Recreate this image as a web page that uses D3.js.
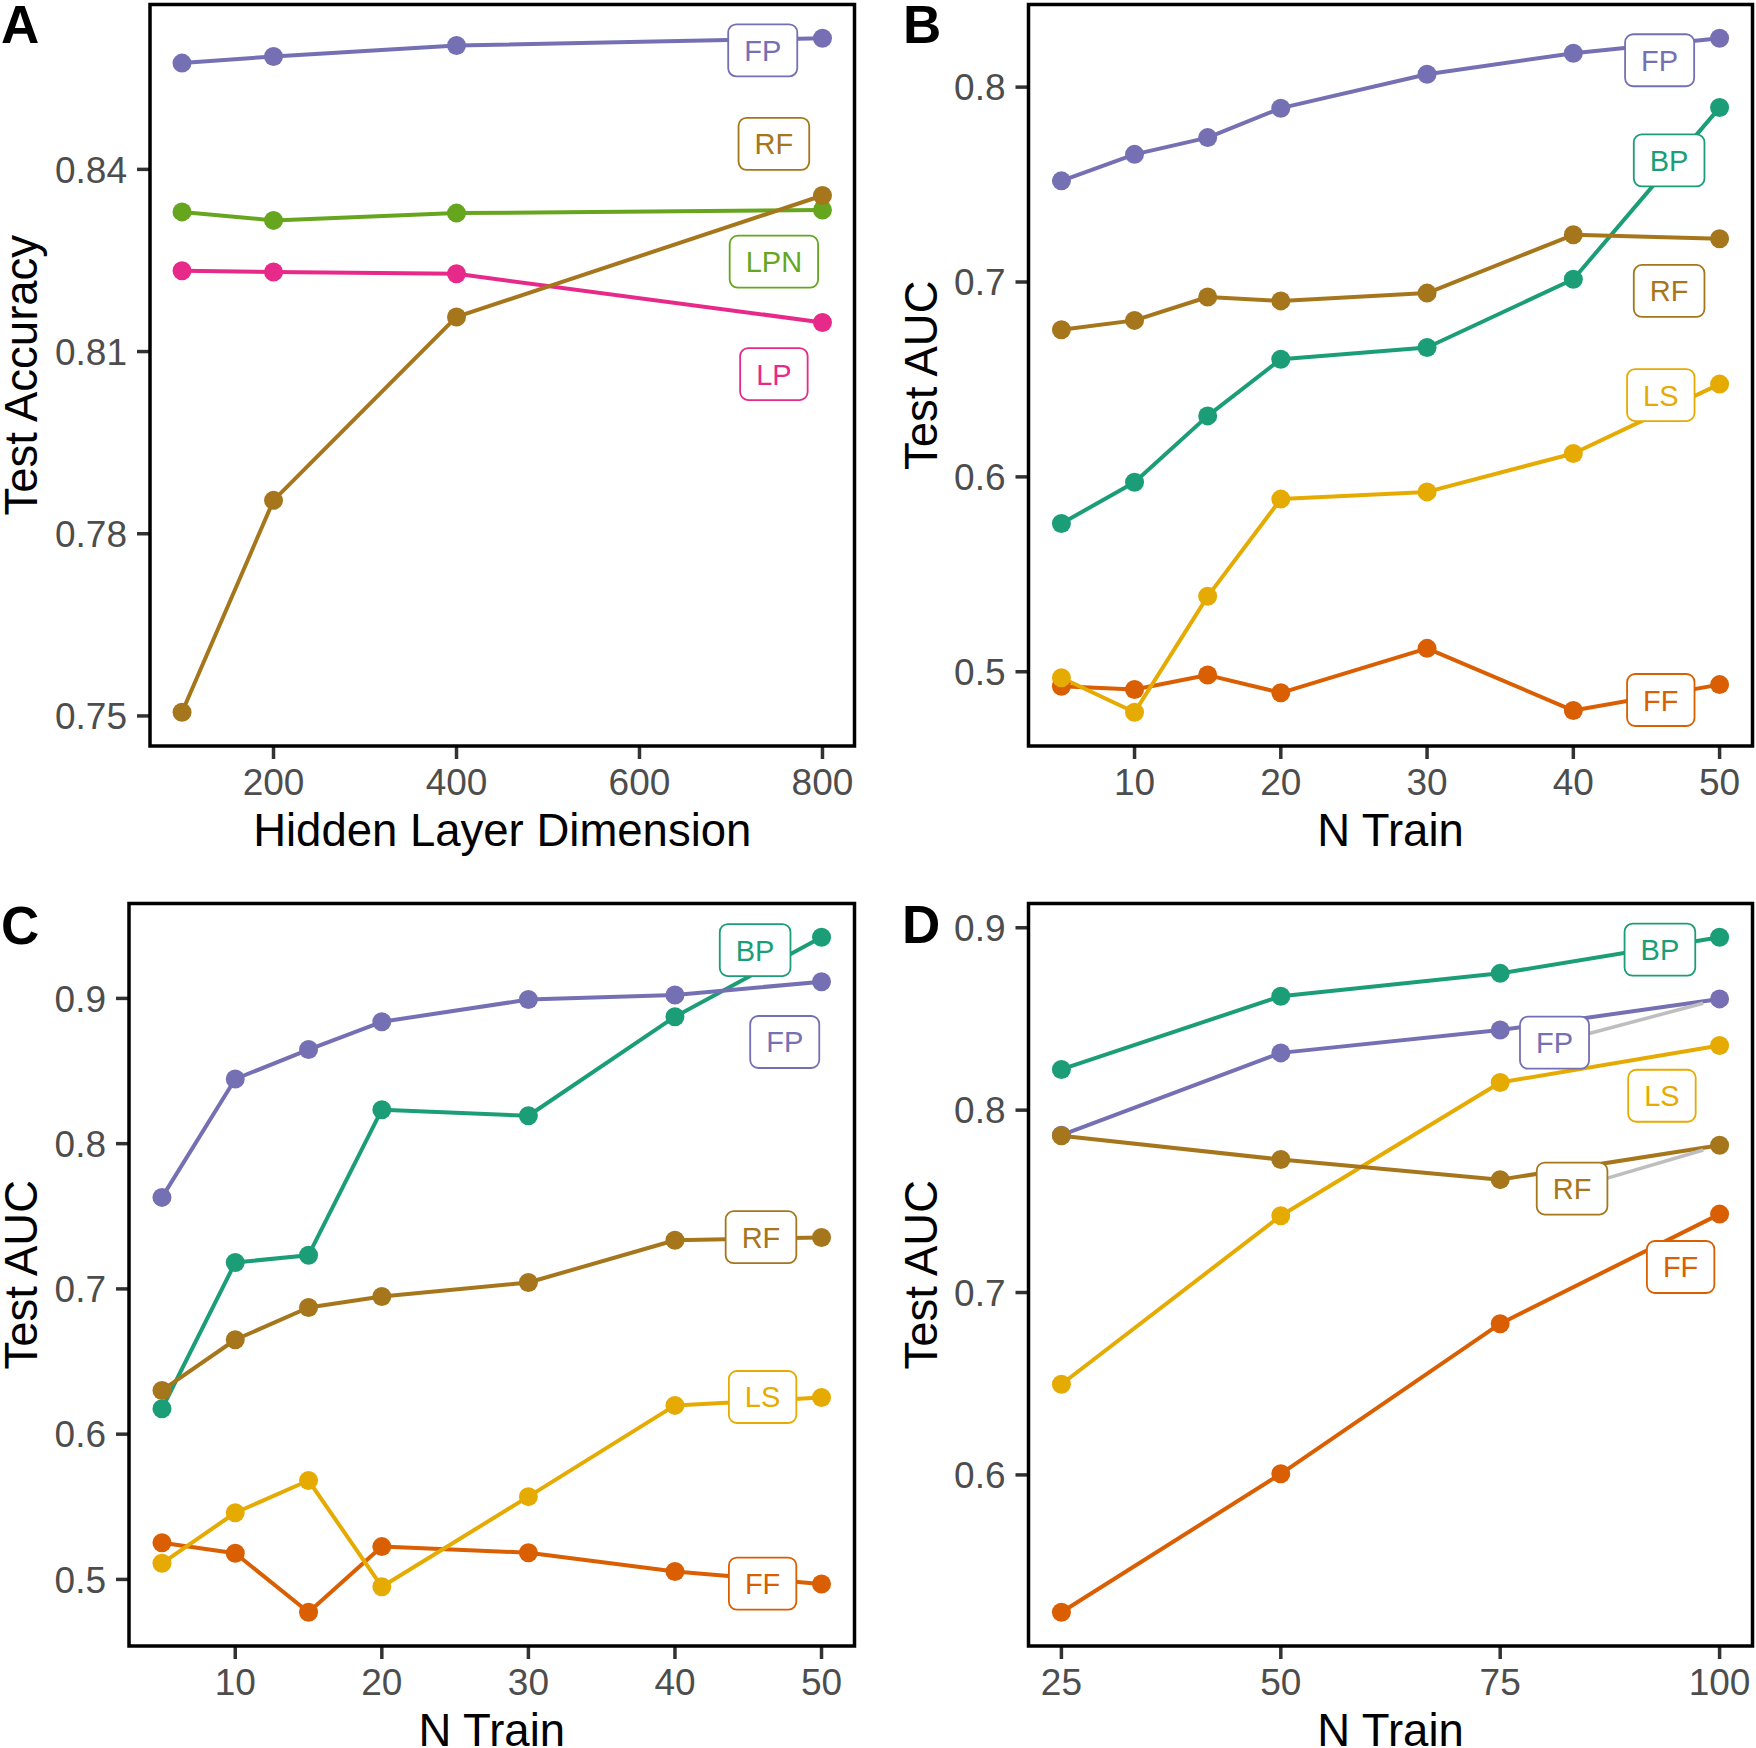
<!DOCTYPE html>
<html>
<head>
<meta charset="utf-8">
<script src="https://cdn.jsdelivr.net/npm/d3@7"></script>
<style>
  body { margin: 0; background: #fff; }
  svg  { display: block; font-family: "Liberation Sans", Arial, Helvetica, sans-serif; }
</style>
</head>
<body>
<svg id="fig" width="1756" height="1748"></svg>
<script>
// ---- data ----

// A: test accuracy vs hidden layer dimension
const hiddenDims = [100, 200, 400, 800];
const accFP  = [0.8575, 0.8586, 0.8604, 0.8616];
const accLP  = [0.8233, 0.8231, 0.8228, 0.8148];
const accLPN = [0.8330, 0.8316, 0.8328, 0.8333];
const accRF  = [0.7506, 0.7855, 0.8157, 0.8357];

// B: test AUC vs N train
const nTrainB = [5, 10, 15, 20, 30, 40, 50];
const aucB_BP = [0.5761, 0.5972, 0.6313, 0.6604, 0.6664, 0.7014, 0.7895];
const aucB_FF = [0.4926, 0.4909, 0.4983, 0.4892, 0.5120, 0.4801, 0.4934];
const aucB_FP = [0.7519, 0.7655, 0.7741, 0.7892, 0.8066, 0.8174, 0.8251];
const aucB_LS = [0.4969, 0.4792, 0.5387, 0.5886, 0.5923, 0.6120, 0.6476];
const aucB_RF = [0.6755, 0.6803, 0.6923, 0.6903, 0.6943, 0.7242, 0.7222];

// C: test AUC vs N train
const nTrainC = [5, 10, 15, 20, 30, 40, 50];
const aucC_BP = [0.6175, 0.7182, 0.7232, 0.8234, 0.8192, 0.8874, 0.9421];
const aucC_FF = [0.5253, 0.5180, 0.4774, 0.5226, 0.5184, 0.5054, 0.4969];
const aucC_FP = [0.7630, 0.8445, 0.8648, 0.8839, 0.8992, 0.9023, 0.9115];
const aucC_LS = [0.5111, 0.5459, 0.5681, 0.4950, 0.5570, 0.6198, 0.6252];
const aucC_RF = [0.6301, 0.6650, 0.6872, 0.6948, 0.7044, 0.7335, 0.7354];

// D: test AUC vs N train
const nTrainD = [25, 50, 75, 100];
const aucD_BP = [0.8223, 0.8625, 0.8750, 0.8948];
const aucD_FF = [0.5247, 0.6006, 0.6829, 0.7430];
const aucD_FP = [0.7863, 0.8314, 0.8439, 0.8610];
const aucD_LS = [0.6497, 0.7421, 0.8152, 0.8354];
const aucD_RF = [0.7860, 0.7729, 0.7619, 0.7808];

// tick values
const ticksXA = [200, 400, 600, 800];
const ticksYA = [0.75, 0.78, 0.81, 0.84];
const ticksXB = [10, 20, 30, 40, 50];
const ticksYB = [0.5, 0.6, 0.7, 0.8];
const ticksXC = [10, 20, 30, 40, 50];
const ticksYC = [0.5, 0.6, 0.7, 0.8, 0.9];
const ticksXD = [25, 50, 75, 100];
const ticksYD = [0.6, 0.7, 0.8, 0.9];

// ---- styling / layout ----
const COLORS = {
  BP: "#1B9E77", FF: "#D95F02", FP: "#7570B3", LP: "#E7298A",
  LPN: "#66A61E", LS: "#E6AB02", RF: "#A6761D"
};

const TICK_FS   = 37;
const TITLE_FS  = 45.5;
const LABEL_FS  = 29;
const LETTER_FS = 53;
const LINE_W    = 4;
const PT_R      = 9.5;

const svg = d3.select("#fig");

// repelled label spots (data units), as laid out in the figure
const panels = [
  {
    letter: "A", colLeft: 1, letterPos: [1, 43],
    box: { x0: 150, x1: 854.5, y0: 4.5, y1: 746 },
    xs: hiddenDims, xTicks: ticksXA, yTicks: ticksYA, yFmt: d3.format(".2f"),
    xTitle: "Hidden Layer Dimension", yTitle: "Test Accuracy",
    series: [["FP", accFP], ["LP", accLP], ["LPN", accLPN], ["RF", accRF]],
    spots: { FP: [734.7, 0.8596], RF: [746.9, 0.8442], LPN: [746.9, 0.8248], LP: [746.9, 0.8063] }
  },
  {
    letter: "B", colLeft: 901, letterPos: [903, 43],
    box: { x0: 1028.5, x1: 1752.5, y0: 4.5, y1: 746 },
    xs: nTrainB, xTicks: ticksXB, yTicks: ticksYB, yFmt: d3.format(".1f"),
    xTitle: "N Train", yTitle: "Test AUC",
    series: [["BP", aucB_BP], ["FF", aucB_FF], ["FP", aucB_FP], ["LS", aucB_LS], ["RF", aucB_RF]],
    spots: { FP: [45.9, 0.8138], BP: [46.55, 0.7624], RF: [46.55, 0.6954], LS: [45.98, 0.6420], FF: [45.98, 0.4855] }
  },
  {
    letter: "C", colLeft: 1, letterPos: [1, 944],
    box: { x0: 129, x1: 854.5, y0: 903.5, y1: 1646 },
    xs: nTrainC, xTicks: ticksXC, yTicks: ticksYC, yFmt: d3.format(".1f"),
    xTitle: "N Train", yTitle: "Test AUC",
    series: [["BP", aucC_BP], ["FF", aucC_FF], ["FP", aucC_FP], ["LS", aucC_LS], ["RF", aucC_RF]],
    spots: { BP: [45.47, 0.9333], FP: [47.49, 0.8700], RF: [45.87, 0.7356], LS: [45.98, 0.6256], FF: [45.98, 0.4971] }
  },
  {
    letter: "D", colLeft: 901, letterPos: [902, 943],
    box: { x0: 1028.5, x1: 1752.5, y0: 903.5, y1: 1646 },
    xs: nTrainD, xTicks: ticksXD, yTicks: ticksYD, yFmt: d3.format(".1f"),
    xTitle: "N Train", yTitle: "Test AUC",
    series: [["BP", aucD_BP], ["FF", aucD_FF], ["FP", aucD_FP], ["LS", aucD_LS], ["RF", aucD_RF]],
    spots: { BP: [93.2, 0.8880], FP: [81.19, 0.8370], LS: [93.43, 0.8079], RF: [83.19, 0.7570], FF: [95.56, 0.7140] }
  }
];

// ggplot-style 5% expansion
function expanded(ext) {
  const pad = (ext[1] - ext[0]) * 0.05;
  return [ext[0] - pad, ext[1] + pad];
}

panels.forEach(drawPanel);

function drawPanel(p) {
  const b = p.box;
  const allY = p.series.flatMap(s => s[1]);
  const x = d3.scaleLinear().domain(expanded(d3.extent(p.xs))).range([b.x0, b.x1]);
  const y = d3.scaleLinear().domain(expanded(d3.extent(allY))).range([b.y1, b.y0]);

  const g = svg.append("g");

  // ticks + tick labels
  g.selectAll(".ytick").data(p.yTicks).enter().append("line")
    .attr("x1", b.x0 - 13).attr("x2", b.x0)
    .attr("y1", d => y(d)).attr("y2", d => y(d))
    .attr("stroke", "#333333").attr("stroke-width", 3.5);
  g.selectAll(".ylab").data(p.yTicks).enter().append("text")
    .attr("x", b.x0 - 23).attr("y", d => y(d))
    .attr("dy", "0.36em")
    .attr("text-anchor", "end")
    .attr("font-size", TICK_FS).attr("fill", "#4D4D4D")
    .text(p.yFmt);

  g.selectAll(".xtick").data(p.xTicks).enter().append("line")
    .attr("x1", d => x(d)).attr("x2", d => x(d))
    .attr("y1", b.y1).attr("y2", b.y1 + 13)
    .attr("stroke", "#333333").attr("stroke-width", 3.5);
  g.selectAll(".xlab").data(p.xTicks).enter().append("text")
    .attr("x", d => x(d)).attr("y", b.y1 + 49)
    .attr("text-anchor", "middle")
    .attr("font-size", TICK_FS).attr("fill", "#4D4D4D")
    .text(d => d);

  // axis titles
  g.append("text")
    .attr("x", (b.x0 + b.x1) / 2).attr("y", b.y1 + 100)
    .attr("text-anchor", "middle").attr("font-size", TITLE_FS)
    .text(p.xTitle);
  g.append("text")
    .attr("transform", `translate(${p.colLeft + 36},${(b.y0 + b.y1) / 2}) rotate(-90)`)
    .attr("text-anchor", "middle").attr("font-size", TITLE_FS)
    .text(p.yTitle);

  // lines, then points (alphabetical group order like ggplot)
  const series = p.series.slice().sort((a, c) => d3.ascending(a[0], c[0]));
  const line = d3.line().x((d, i) => x(p.xs[i])).y(d => y(d));

  g.append("g").selectAll("path").data(series).enter().append("path")
    .attr("d", s => line(s[1]))
    .attr("fill", "none")
    .attr("stroke", s => COLORS[s[0]])
    .attr("stroke-width", LINE_W)
    .attr("stroke-linejoin", "round");

  series.forEach(s => {
    g.append("g").selectAll("circle").data(s[1]).enter().append("circle")
      .attr("cx", (d, i) => x(p.xs[i]))
      .attr("cy", d => y(d))
      .attr("r", PT_R)
      .attr("fill", COLORS[s[0]]);
  });

  // labels for the last point of each series
  const segG = g.append("g");
  const labG = g.append("g");
  series.forEach(s => {
    const name = s[0];
    const spot = p.spots[name];
    const cx = x(spot[0]), cy = y(spot[1]);
    const px = x(p.xs[p.xs.length - 1]), py = y(s[1][s[1].length - 1]);

    const lg = labG.append("g");
    const txt = lg.append("text")
      .attr("x", cx).attr("y", cy + 10.5)
      .attr("text-anchor", "middle")
      .attr("font-size", LABEL_FS)
      .attr("fill", COLORS[name])
      .text(name);
    const w = txt.node().getComputedTextLength() + 32;
    const h = 52;
    lg.insert("rect", "text")
      .attr("x", cx - w / 2).attr("y", cy - h / 2)
      .attr("width", w).attr("height", h)
      .attr("rx", 8).attr("ry", 8)
      .attr("fill", "#fff")
      .attr("stroke", COLORS[name]).attr("stroke-width", 1.8);

    // segment only when the label sits far from its point
    const nx = Math.max(cx - w / 2, Math.min(px, cx + w / 2));
    const ny = Math.max(cy - h / 2, Math.min(py, cy + h / 2));
    const dist = Math.hypot(px - nx, py - ny);
    if (dist > 60) {
      const dx = px - cx, dy = py - cy;
      const t = Math.min((w / 2) / Math.abs(dx || 1e-9), (h / 2) / Math.abs(dy || 1e-9));
      const sx = cx + dx * t, sy = cy + dy * t;
      const len = Math.hypot(px - sx, py - sy);
      const ex = px - (px - sx) / len * 17, ey = py - (py - sy) / len * 17;
      segG.append("line")
        .attr("x1", sx).attr("y1", sy).attr("x2", ex).attr("y2", ey)
        .attr("stroke", "#BEBEBE").attr("stroke-width", 3.5);
    }
  });

  // panel border
  g.append("rect")
    .attr("x", b.x0).attr("y", b.y0)
    .attr("width", b.x1 - b.x0).attr("height", b.y1 - b.y0)
    .attr("fill", "none").attr("stroke", "#000").attr("stroke-width", 3.5);

  // panel letter
  svg.append("text")
    .attr("x", p.letterPos[0]).attr("y", p.letterPos[1])
    .attr("font-size", LETTER_FS).attr("font-weight", "bold")
    .text(p.letter);
}
</script>
</body>
</html>
